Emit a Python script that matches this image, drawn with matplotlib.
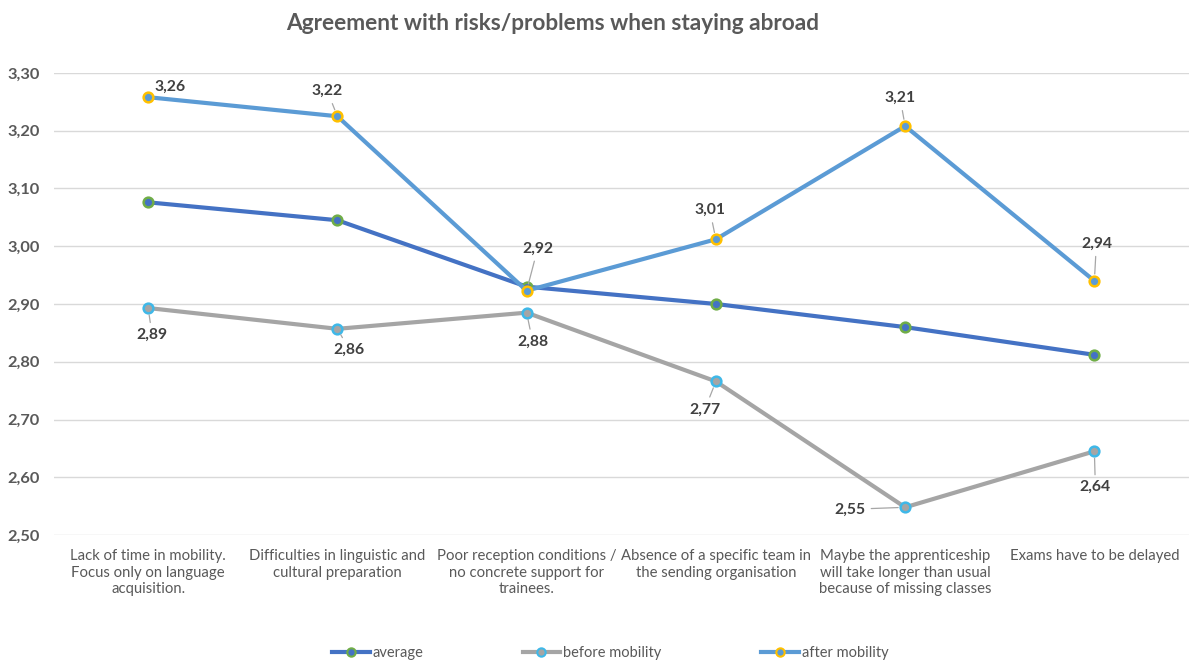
import matplotlib
matplotlib.use("Agg")
import matplotlib.pyplot as plt
from matplotlib.lines import Line2D

categories = [
    "Lack of time in mobility.\nFocus only on language\nacquisition.",
    "Difficulties in linguistic and\ncultural preparation",
    "Poor reception conditions /\nno concrete support for\ntrainees.",
    "Absence of a specific team in\nthe sending organisation",
    "Maybe the apprenticeship\nwill take longer than usual\nbecause of missing classes",
    "Exams have to be delayed",
]
average = [3.076, 3.045, 2.930, 2.900, 2.860, 2.812]
before = [2.893, 2.857, 2.885, 2.766, 2.548, 2.645]
after = [3.258, 3.225, 2.923, 3.012, 3.208, 2.940]
before_labels = ["2,89", "2,86", "2,88", "2,77", "2,55", "2,64"]
after_labels = ["3,26", "3,22", "2,92", "3,01", "3,21", "2,94"]
yticks = [2.50, 2.60, 2.70, 2.80, 2.90, 3.00, 3.10, 3.20, 3.30]
ytick_labels = ["2,50", "2,60", "2,70", "2,80", "2,90", "3,00", "3,10", "3,20", "3,30"]

plt.rcParams['font.family'] = ['Lato', 'DejaVu Sans']

fig = plt.figure(figsize=(11.89, 6.63), dpi=100)
ax = fig.add_axes([0.045, 0.193, 0.955, 0.697])

x = list(range(len(categories)))
ax.plot(x, after, color="#5B9BD5", lw=3, marker="o", ms=7, mfc="#5B9BD5",
        mec="#FFC000", mew=1.8, zorder=4, label="after mobility")
ax.plot(x, average, color="#4472C4", lw=3, marker="o", ms=7, mfc="#4472C4",
        mec="#70AD47", mew=1.8, zorder=3, label="average")
ax.plot(x, before, color="#A5A5A5", lw=3, marker="o", ms=7, mfc="#A5A5A5",
        mec="#3FB8E8", mew=1.8, zorder=2, label="before mobility")

after_off = [(22, 10), (-10, 25), (11, 42), (-6, 29), (-5, 28), (2, 37)]
before_off = [(4, -27), (12, -21), (6, -29), (-11, -28), (-55, -2), (1, -36)]
lead_after = [False, True, True, True, True, True]
lead_before = [True, True, True, True, True, True]

def label(xi, yi, txt, off, lead):
    ap = dict(arrowstyle="-", color="#A6A6A6", lw=0.9, shrinkA=2, shrinkB=5) if lead else None
    ax.annotate(txt, (xi, yi), xytext=off, textcoords="offset pixels",
                ha="center", va="center", fontsize=11.3, fontweight="bold",
                color="#404040", arrowprops=ap, zorder=6)

for i in x:
    label(i, after[i], after_labels[i], after_off[i], lead_after[i])
    label(i, before[i], before_labels[i], before_off[i], lead_before[i])

ax.set_xlim(-0.5, len(categories) - 0.5)
ax.set_ylim(2.50, 3.30)
ax.set_yticks(yticks)
ax.set_yticklabels(ytick_labels, fontsize=11.8, color="#595959", fontweight="bold")
ax.set_xticks(x)
ax.set_xticklabels(categories, fontsize=10.7, color="#595959", linespacing=1.25)
ax.tick_params(axis="both", length=0)
ax.tick_params(axis="x", pad=10)
ax.tick_params(axis="y", pad=10)
for s in ax.spines.values():
    s.set_visible(False)
ax.grid(axis="y", color="#D9D9D9", lw=1)
ax.set_axisbelow(True)

fig.text(0.465, 0.965, "Agreement with risks/problems when staying abroad",
         ha="center", va="center", fontsize=16.3, fontweight="bold", color="#595959")

handles = [
    Line2D([], [], color="#4472C4", lw=3, marker="o", ms=6, mfc="#4472C4", mec="#70AD47", mew=1.5),
    Line2D([], [], color="#A5A5A5", lw=3, marker="o", ms=6, mfc="#A5A5A5", mec="#3FB8E8", mew=1.5),
    Line2D([], [], color="#5B9BD5", lw=3, marker="o", ms=6, mfc="#5B9BD5", mec="#FFC000", mew=1.5),
]
fig.legend(handles, ["average", "before mobility", "after mobility"], loc="center",
           bbox_to_anchor=(0.513, 0.015), ncol=3, frameon=False, fontsize=10.5,
           labelcolor="#595959", handlelength=2.6, handletextpad=0.2, columnspacing=6.8)

fig.savefig("out.png", dpi=100)
